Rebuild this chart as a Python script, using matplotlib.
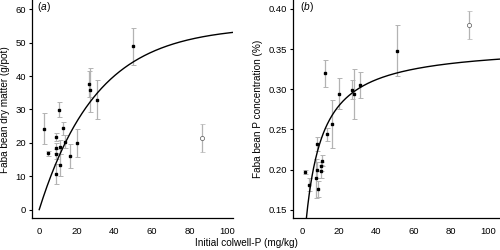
import numpy as np
import matplotlib
matplotlib.use("Agg")
import matplotlib.pyplot as plt

plt.rcParams['font.family'] = ['Liberation Sans', 'DejaVu Sans']
plt.rcParams['mathtext.fontset'] = 'custom'
plt.rcParams['mathtext.rm'] = 'Liberation Sans'
plt.rcParams['mathtext.it'] = 'Liberation Sans:italic'

# ---- Panel (a): dry matter ----
a_x = [2.4, 4.6, 8.8, 8.8, 8.7, 9.2, 10.8, 11.0, 11.3, 12.7, 13.7, 16.4, 20.2, 26.5, 27.1, 30.7, 50.2]
a_y = [24.2, 16.9, 21.8, 18.6, 10.7, 16.8, 29.9, 18.8, 13.3, 24.4, 20.4, 16.2, 20.1, 37.6, 35.8, 32.9, 48.9]
a_err = [4.6, 0.7, 1.3, 1.5, 3.0, 1.5, 2.3, 2.0, 3.3, 1.9, 2.0, 3.6, 4.2, 4.0, 6.5, 5.8, 5.5]
a_out_x = [86.8]
a_out_y = [21.4]
a_out_err = [4.2]
# fitted curve parameters (Mitscherlich-type)
a_A, a_c = 55.0, 0.0326

# ---- Panel (b): P concentration ----
b_x = [1.6, 3.8, 7.9, 7.7, 8.2, 8.7, 10.4, 10.2, 10.8, 12.4, 13.4, 16.1, 19.9, 26.8, 27.7, 30.9, 51.2]
b_y = [0.197, 0.181, 0.199, 0.189, 0.232, 0.176, 0.204, 0.198, 0.211, 0.320, 0.244, 0.257, 0.2945, 0.2995, 0.294, 0.305, 0.348]
b_err = [0.003, 0.008, 0.010, 0.024, 0.009, 0.010, 0.006, 0.008, 0.007, 0.017, 0.008, 0.030, 0.0195, 0.012, 0.031, 0.016, 0.032]
b_out_x = [89.5]
b_out_y = [0.380]
b_out_err = [0.017]
# fitted curve parameters (hyperbolic)
b_A, b_B, b_d = 0.3557, 2.054, 7.15

fig = plt.figure(figsize=(5, 2.5), dpi=100)
ax1 = fig.add_axes([0.0634, 0.1268, 0.4026, 0.8732])
ax2 = fig.add_axes([0.5854, 0.1268, 0.4146, 0.8732])

ecol = '#b3b3b3'
fs = 6.8

def style(ax):
    for s in ['top', 'right']:
        ax.spines[s].set_visible(False)
    for s in ['left', 'bottom']:
        ax.spines[s].set_linewidth(0.9)
    ax.tick_params(axis='y', direction='out', length=2.5, width=0.8, pad=1.5, labelsize=fs)
    ax.tick_params(axis='x', length=0, pad=6.5, labelsize=fs)

# Panel a
ax1.errorbar(a_x, a_y, yerr=a_err, fmt='s', color='black', ms=2.0, ecolor=ecol,
             elinewidth=0.9, capsize=1.8, capthick=0.7, zorder=3)
ax1.errorbar(a_out_x, a_out_y, yerr=a_out_err, fmt='o', mfc='white', mec='#555555',
             mew=0.5, ms=3.0, ecolor=ecol, elinewidth=0.9, capsize=1.8, capthick=0.7, zorder=3)
xa = np.linspace(0, 103.4, 300)
ax1.plot(xa, a_A * (1 - np.exp(-a_c * xa)), color='black', lw=1.0, zorder=4)
ax1.set_xlim(-4.0, 103.2)
ax1.set_ylim(-2.6, 62.8)
ax1.set_xticks([0, 20, 40, 60, 80, 100])
ax1.set_yticks([0, 10, 20, 30, 40, 50, 60])
ax1.set_ylabel('Faba bean dry matter (g/pot)', fontsize=fs + 0.4, labelpad=4)
style(ax1)
ax1.text(0.025, 0.968, r'($\mathit{a}$)', transform=ax1.transAxes, fontsize=fs + 0.5,
         ha='left', va='center')

# Panel b
ax2.errorbar(b_x, b_y, yerr=b_err, fmt='s', color='black', ms=2.0, ecolor=ecol,
             elinewidth=0.9, capsize=1.8, capthick=0.7, zorder=3)
ax2.errorbar(b_out_x, b_out_y, yerr=b_out_err, fmt='o', mfc='white', mec='#555555',
             mew=0.5, ms=3.0, ecolor=ecol, elinewidth=0.9, capsize=1.8, capthick=0.7, zorder=3)
xb = np.linspace(1.5, 106.3, 400)
ax2.plot(xb, b_A - b_B / (xb + b_d), color='black', lw=1.0, zorder=4)
ax2.set_xlim(-5.0, 106.3)
ax2.set_ylim(0.1393, 0.4112)
ax2.set_xticks([0, 20, 40, 60, 80, 100])
ax2.set_yticks([0.15, 0.20, 0.25, 0.30, 0.35, 0.40])
ax2.set_yticklabels(['0.15', '0.20', '0.25', '0.30', '0.35', '0.40'])
ax2.set_ylabel('Faba bean P concentration (%)', fontsize=fs + 0.4, labelpad=4)
style(ax2)
ax2.text(0.035, 0.968, r'($\mathit{b}$)', transform=ax2.transAxes, fontsize=fs + 0.5,
         ha='left', va='center')

fig.text(0.493, 0.028, 'Initial colwell-P (mg/kg)', fontsize=fs + 0.4, ha='center', va='center')

fig.savefig('out.png', dpi=100)
